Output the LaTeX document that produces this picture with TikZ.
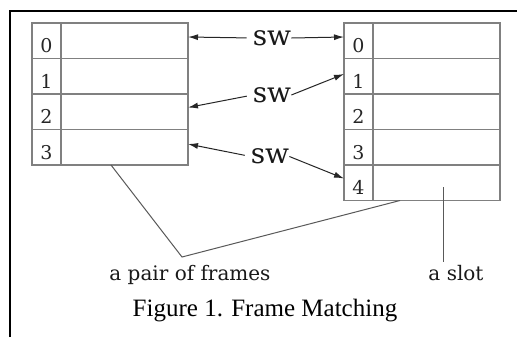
\documentclass[tikz,border=0pt]{standalone}
\usepackage{fontspec}
\setmainfont{Liberation Serif}
\newfontfamily\labelfont{DejaVu Serif}
\usetikzlibrary{arrows.meta}

\begin{document}
\begin{tikzpicture}[x=1bp,y=-1bp,
  slotbox/.style={draw=black!50, line width=1.1bp, minimum width=156bp,
    minimum height=35.5bp, inner sep=0, outer sep=0, anchor=north west},
  cellline/.style={draw=black!50, line width=1.1bp},
  ptr/.style={draw=black!85, line width=1bp, -{Latex[length=10bp,width=6bp]}},
  leader/.style={draw=black!65, line width=1bp},
  idx/.style={font=\labelfont\fontsize{19bp}{22bp}\selectfont, text=black!85,
    anchor=base, inner sep=0},
  swlabel/.style={font=\labelfont\fontsize{28bp}{32bp}\selectfont, text=black!90,
    inner sep=0},
  note/.style={font=\labelfont\fontsize{20bp}{24bp}\selectfont, text=black!90,
    anchor=base, inner sep=0},
  caption/.style={font=\fontsize{25bp}{30bp}\selectfont, anchor=base, inner sep=0},
]
\useasboundingbox (0,0) rectangle (517,337);
\fill[white] (0,0) rectangle (517,337);

% outer rule (top and left)
\draw[line width=2bp] (10,337) -- (10,10.5) -- (517,10.5);

% left frame: four slots
\foreach \i in {0,...,3} {
  \node[slotbox] (L\i) at (32,{23+35.5*\i}) {};
  \node[idx] (L\i n) at (46.5,{52.5+35.5*\i}) {\i};
}
\draw[cellline] (61,23) -- (61,165);

% right frame: five slots
\foreach \i in {0,...,4} {
  \node[slotbox] (R\i) at (344,{23+35.5*\i}) {};
  \node[idx] (R\i n) at (358.5,{52.5+35.5*\i}) {\i};
}
\draw[cellline] (373,23) -- (373,200.5);

% sliding-window labels
\node[swlabel] (sw1) at (272,38) {sw};
\node[swlabel] (sw2) at (272,95) {sw};
\node[swlabel] (sw3) at (270,156.5) {sw};

% pointer ends on the frames
\coordinate (p1l) at (188,37);
\coordinate (p1r) at (344,37);
\coordinate (p2l) at (188,107.5);
\coordinate (p2r) at (344,74);
\coordinate (p3l) at (188,144);
\coordinate (p3r) at (344,178.5);

\draw[ptr, shorten <=6bp] (sw1.west) -- (p1l);
\draw[ptr] (sw1.east) -- (p1r);
\draw[ptr, shorten <=6bp] (sw2.west) -- (p2l);
\draw[ptr] (sw2.east) -- (p2r);
\draw[ptr, shorten <=6bp] (sw3.west) -- (p3l);
\draw[ptr] (sw3.east) -- (p3r);

% leaders to the notes
\coordinate (pairL) at (111,165);
\coordinate (pairApex) at (182,257);
\coordinate (pairR) at (400,200.5);
\draw[leader] (pairL) -- (pairApex) -- (pairR);
\coordinate (slotTop) at (443,187);
\coordinate (slotEnd) at (443,262);
\draw[leader] (slotTop) -- (slotEnd);

\node[note] (pairnote) at (190,280) {a pair of frames};
\node[note] (slotnote) at (456,280) {a slot};

\node[caption] (cap) at (265,316) {Figure 1. Frame Matching};
\end{tikzpicture}
\end{document}
